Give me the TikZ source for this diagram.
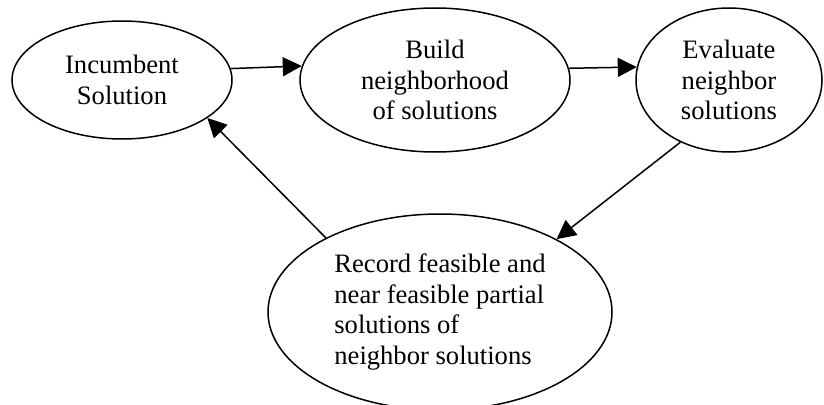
\documentclass[tikz,border=0pt]{standalone}
\usepackage{fontspec}
\setmainfont{Liberation Serif}
\usetikzlibrary{shapes.geometric,arrows.meta}
\begin{document}
\begin{tikzpicture}[x=1pt,y=-1pt,
  stage/.style={draw=black, line width=1.5pt, ellipse, inner sep=0pt,
    font=\fontsize{26.6}{30.5}\selectfont, align=center},
  flow/.style={draw=black, line width=1.5pt, -{Triangle[length=19pt,width=19pt]}}]
\useasboundingbox (0,0) rectangle (824,404);
\node[stage, minimum width=220pt, minimum height=118pt] (inc) at (122,80) {Incumbent\\Solution};
\node[stage, minimum width=270pt, minimum height=144pt] (bld) at (435,80) {Build\\neighborhood\\of solutions};
\node[stage, minimum width=186pt, minimum height=144pt] (evl) at (729,80) {Evaluate\\neighbor\\solutions};
\node[stage, minimum width=344pt, minimum height=196pt, align=left] (rec) at (440,312) {Record feasible and\\near feasible partial\\solutions of\\neighbor solutions};
\draw[flow] (inc.6) -- (bld.174.8);
\draw[flow] (bld.5.2) -- (evl.172.5);
\draw[flow] (evl.-128.3) -- (rec.32.7);
\draw[flow] (rec.147.7) -- (inc.-24.3);
\end{tikzpicture}
\end{document}
